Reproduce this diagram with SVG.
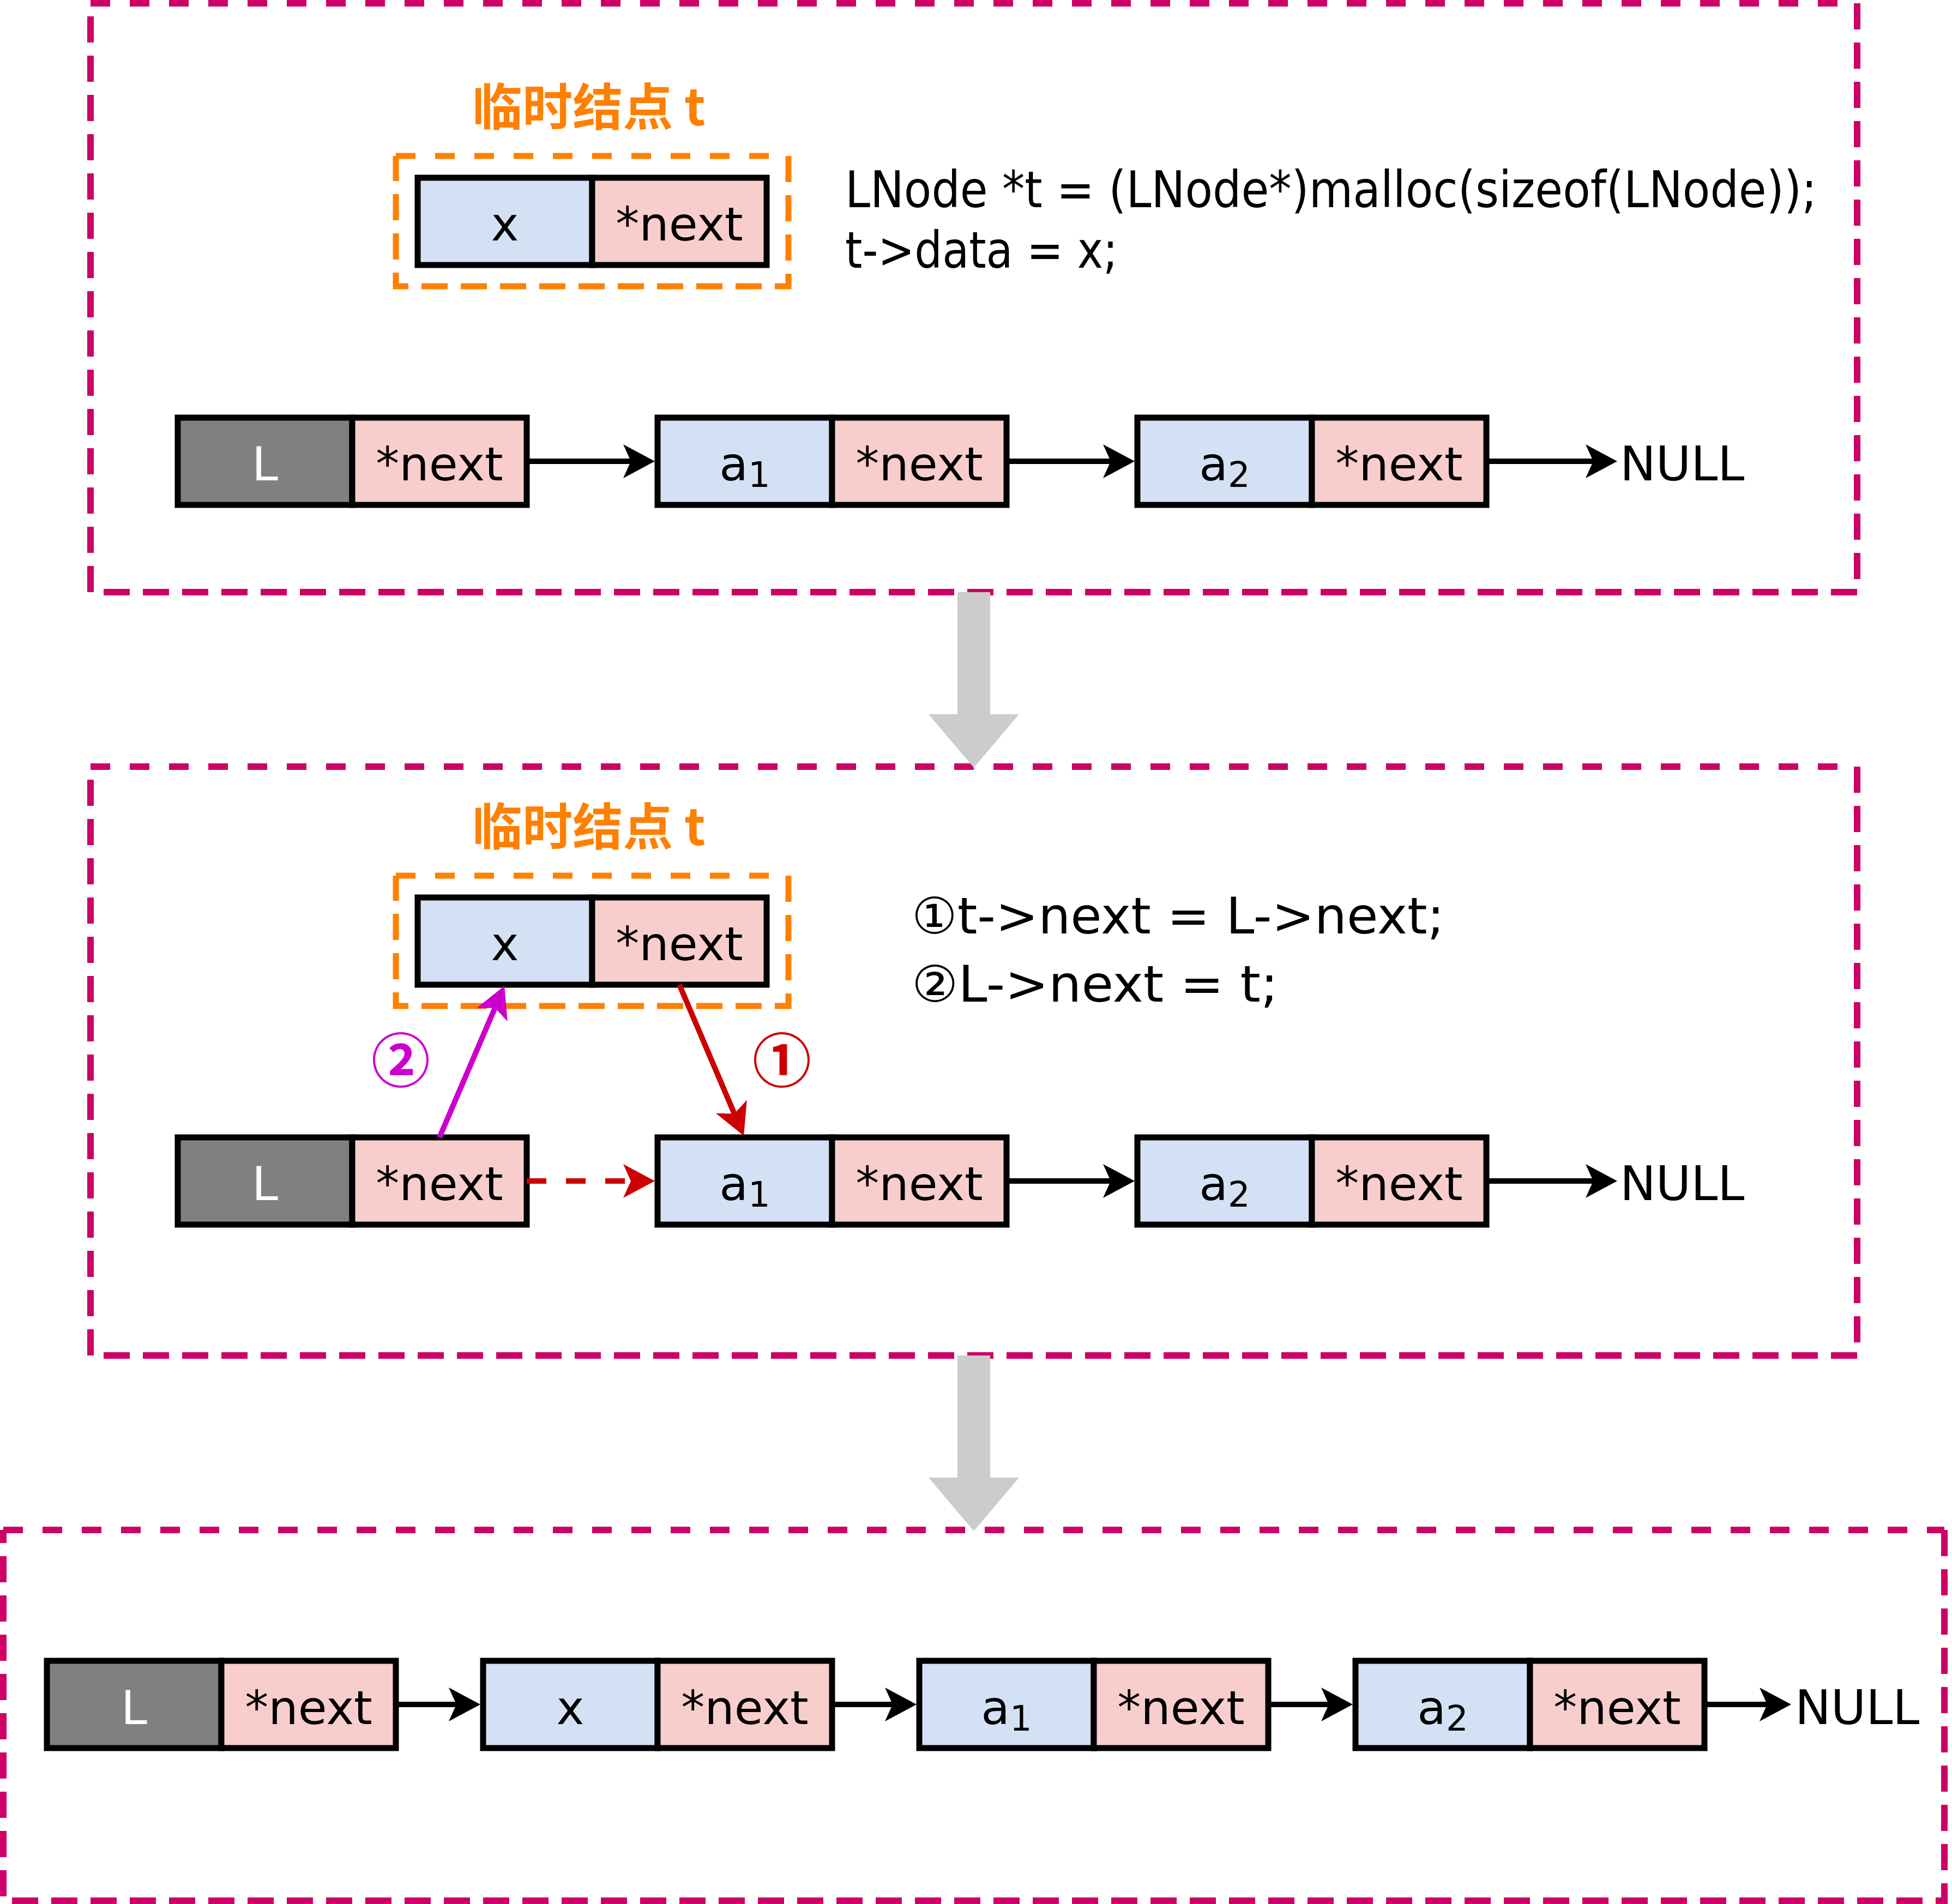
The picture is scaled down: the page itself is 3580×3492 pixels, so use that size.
<svg xmlns="http://www.w3.org/2000/svg" width="3580" height="3492" viewBox="0 0 3580 3492">
<style>
.bg{fill:#FFFFFF}
.frame{fill:none;stroke:#CC0066;stroke-width:12;stroke-dasharray:48 24}
.frametop{fill:none;stroke:#CC0066;stroke-width:12;stroke-dasharray:36 36}
.tmp{fill:none;stroke:#FF8000;stroke-width:11;stroke-dasharray:48 24}
.tmptop{fill:none;stroke:#FF8000;stroke-width:11;stroke-dasharray:36 36}
.gray{fill:#808080;stroke:#000;stroke-width:11}
.blue{fill:#D4E1F5;stroke:#000;stroke-width:11}
.pink{fill:#F8CECC;stroke:#000;stroke-width:11}
.hand{font-family:"DejaVu Sans",sans-serif;font-size:86px;fill:#000;text-anchor:middle}
.sub{font-size:64px}
.white{fill:#FFFFFF}
.null{font-family:"DejaVu Sans",sans-serif;font-size:88px;fill:#000}
.code{font-family:"DejaVu Sans","Noto Sans CJK SC",sans-serif;font-size:92px;fill:#000}
.title{font-family:"Noto Sans CJK SC",sans-serif;font-weight:bold;font-size:92px;fill:#FF8000;text-anchor:middle}
.step{font-family:"Noto Sans CJK SC",sans-serif;font-weight:bold;font-size:108px;text-anchor:middle}
.link{fill:none;stroke:#000;stroke-width:10}
.bigarrow{fill:#CCCCCC}
</style>
<defs>
<marker id="ahBlack" viewBox="-30 -32 64 64" markerWidth="64" markerHeight="64" refX="0" refY="0" orient="auto" markerUnits="userSpaceOnUse"><path d="M32,0 L-26,-31 L-12,0 L-26,31 Z" fill="#000000"/></marker>
<marker id="ahRed" viewBox="-30 -32 64 64" markerWidth="64" markerHeight="64" refX="0" refY="0" orient="auto" markerUnits="userSpaceOnUse"><path d="M32,0 L-26,-31 L-12,0 L-26,31 Z" fill="#CC0000"/></marker>
<marker id="ahMag" viewBox="-30 -32 64 64" markerWidth="64" markerHeight="64" refX="0" refY="0" orient="auto" markerUnits="userSpaceOnUse"><path d="M32,0 L-26,-31 L-12,0 L-26,31 Z" fill="#CC00CC"/></marker>
</defs>
<rect class="bg" x="0" y="0" width="3580" height="3492"/>

<g id="frames">
<path class="frame" d="M3406,6 V1086 H166 V6"/><path class="frametop" d="M166,6 H3406"/>
<path class="frame" d="M3406,1406 V2486 H166 V1406"/><path class="frametop" d="M166,1406 H3406"/>
<path class="frame" d="M3566,2806 V3486 H6 V2806"/><path class="frametop" d="M6,2806 H3566"/>
<path class="tmp" d="M1446,286 V525 H726 V286"/><path class="tmptop" d="M726,286 H1446"/>
<path class="tmp" d="M1446,1606 V1845 H726 V1606"/><path class="tmptop" d="M726,1606 H1446"/>
</g>

<g id="step-arrows">
<polygon class="bigarrow" points="1756,1086 1816,1086 1816,1310 1869,1310 1786,1408 1703,1310 1756,1310"/>
<polygon class="bigarrow" points="1756,2486 1816,2486 1816,2710 1869,2710 1786,2808 1703,2710 1756,2710"/>
</g>

<!-- panel 1 -->
<text class="title" x="1080" y="230">临时结点 t</text>
<g id="t1">
<rect class="blue" x="766" y="326" width="320" height="160"/>
<rect class="pink" x="1086" y="326" width="320" height="160"/>
<text class="hand" x="926" y="441">x</text>
<text class="hand" x="1246" y="441">*next</text>
</g>
<text class="code" x="1550" y="380" textLength="1782" lengthAdjust="spacingAndGlyphs">LNode *t = (LNode*)malloc(sizeof(LNode));</text>
<text class="code" x="1550" y="491" textLength="500" lengthAdjust="spacingAndGlyphs">t-&gt;data = x;</text>

<g id="r1-L">
<rect class="gray" x="326" y="766" width="320" height="160"/>
<rect class="pink" x="646" y="766" width="320" height="160"/>
<text class="hand white" x="486" y="881">L</text>
<text class="hand" x="806" y="881">*next</text>
</g>
<g id="r1-a1">
<rect class="blue" x="1206" y="766" width="320" height="160"/>
<rect class="pink" x="1526" y="766" width="320" height="160"/>
<text class="hand" x="1366" y="881">a<tspan class="sub" dy="12">1</tspan></text>
<text class="hand" x="1686" y="881">*next</text>
</g>
<g id="r1-a2">
<rect class="blue" x="2086" y="766" width="320" height="160"/>
<rect class="pink" x="2406" y="766" width="320" height="160"/>
<text class="hand" x="2246" y="881">a<tspan class="sub" dy="12">2</tspan></text>
<text class="hand" x="2566" y="881">*next</text>
</g>
<text id="r1-null" class="null" x="2971" y="881">NULL</text>

<!-- panel 2 -->
<text class="title" x="1080" y="1550">临时结点 t</text>
<g id="t2">
<rect class="blue" x="766" y="1646" width="320" height="160"/>
<rect class="pink" x="1086" y="1646" width="320" height="160"/>
<text class="hand" x="926" y="1761">x</text>
<text class="hand" x="1246" y="1761">*next</text>
</g>
<text class="code" x="1672" y="1712" textLength="977" lengthAdjust="spacingAndGlyphs">①t-&gt;next = L-&gt;next;</text>
<text class="code" x="1672" y="1837" textLength="672" lengthAdjust="spacingAndGlyphs">②L-&gt;next = t;</text>
<text class="step" x="735" y="1985" fill="#CC00CC">②</text>
<text class="step" x="1434" y="1985" fill="#CC0000">①</text>

<g id="r2-L">
<rect class="gray" x="326" y="2086" width="320" height="160"/>
<rect class="pink" x="646" y="2086" width="320" height="160"/>
<text class="hand white" x="486" y="2201">L</text>
<text class="hand" x="806" y="2201">*next</text>
</g>
<g id="r2-a1">
<rect class="blue" x="1206" y="2086" width="320" height="160"/>
<rect class="pink" x="1526" y="2086" width="320" height="160"/>
<text class="hand" x="1366" y="2201">a<tspan class="sub" dy="12">1</tspan></text>
<text class="hand" x="1686" y="2201">*next</text>
</g>
<g id="r2-a2">
<rect class="blue" x="2086" y="2086" width="320" height="160"/>
<rect class="pink" x="2406" y="2086" width="320" height="160"/>
<text class="hand" x="2246" y="2201">a<tspan class="sub" dy="12">2</tspan></text>
<text class="hand" x="2566" y="2201">*next</text>
</g>
<text id="r2-null" class="null" x="2971" y="2201">NULL</text>

<!-- panel 3 -->
<g id="r3-L">
<rect class="gray" x="86" y="3046" width="320" height="160"/>
<rect class="pink" x="406" y="3046" width="320" height="160"/>
<text class="hand white" x="246" y="3162">L</text>
<text class="hand" x="566" y="3162">*next</text>
</g>
<g id="r3-x">
<rect class="blue" x="886" y="3046" width="320" height="160"/>
<rect class="pink" x="1206" y="3046" width="320" height="160"/>
<text class="hand" x="1046" y="3162">x</text>
<text class="hand" x="1366" y="3162">*next</text>
</g>
<g id="r3-a1">
<rect class="blue" x="1686" y="3046" width="320" height="160"/>
<rect class="pink" x="2006" y="3046" width="320" height="160"/>
<text class="hand" x="1846" y="3162">a<tspan class="sub" dy="12">1</tspan></text>
<text class="hand" x="2166" y="3162">*next</text>
</g>
<g id="r3-a2">
<rect class="blue" x="2486" y="3046" width="320" height="160"/>
<rect class="pink" x="2806" y="3046" width="320" height="160"/>
<text class="hand" x="2646" y="3162">a<tspan class="sub" dy="12">2</tspan></text>
<text class="hand" x="2966" y="3162">*next</text>
</g>
<text id="r3-null" class="null" x="3292" y="3162">NULL</text>

<g id="connectors">
<line class="link" x1="966" y1="846" x2="1169" y2="846" marker-end="url(#ahBlack)"/>
<line class="link" x1="1846" y1="846" x2="2049" y2="846" marker-end="url(#ahBlack)"/>
<line class="link" x1="2726" y1="846" x2="2934" y2="846" marker-end="url(#ahBlack)"/>

<line class="link" x1="966" y1="2166" x2="1169" y2="2166" style="stroke:#CC0000;stroke-dasharray:36 36" marker-end="url(#ahRed)"/>
<line class="link" x1="1846" y1="2166" x2="2049" y2="2166" marker-end="url(#ahBlack)"/>
<line class="link" x1="2726" y1="2166" x2="2934" y2="2166" marker-end="url(#ahBlack)"/>
<line class="link" x1="1246" y1="1806" x2="1351.5" y2="2053.6" style="stroke:#CC0000" marker-end="url(#ahRed)"/>
<line class="link" x1="806" y1="2086" x2="912.5" y2="1837.5" style="stroke:#CC00CC" marker-end="url(#ahMag)"/>

<line class="link" x1="726" y1="3126" x2="849" y2="3126" marker-end="url(#ahBlack)"/>
<line class="link" x1="1526" y1="3126" x2="1649" y2="3126" marker-end="url(#ahBlack)"/>
<line class="link" x1="2326" y1="3126" x2="2449" y2="3126" marker-end="url(#ahBlack)"/>
<line class="link" x1="3126" y1="3126" x2="3253" y2="3126" marker-end="url(#ahBlack)"/>
</g>
</svg>
